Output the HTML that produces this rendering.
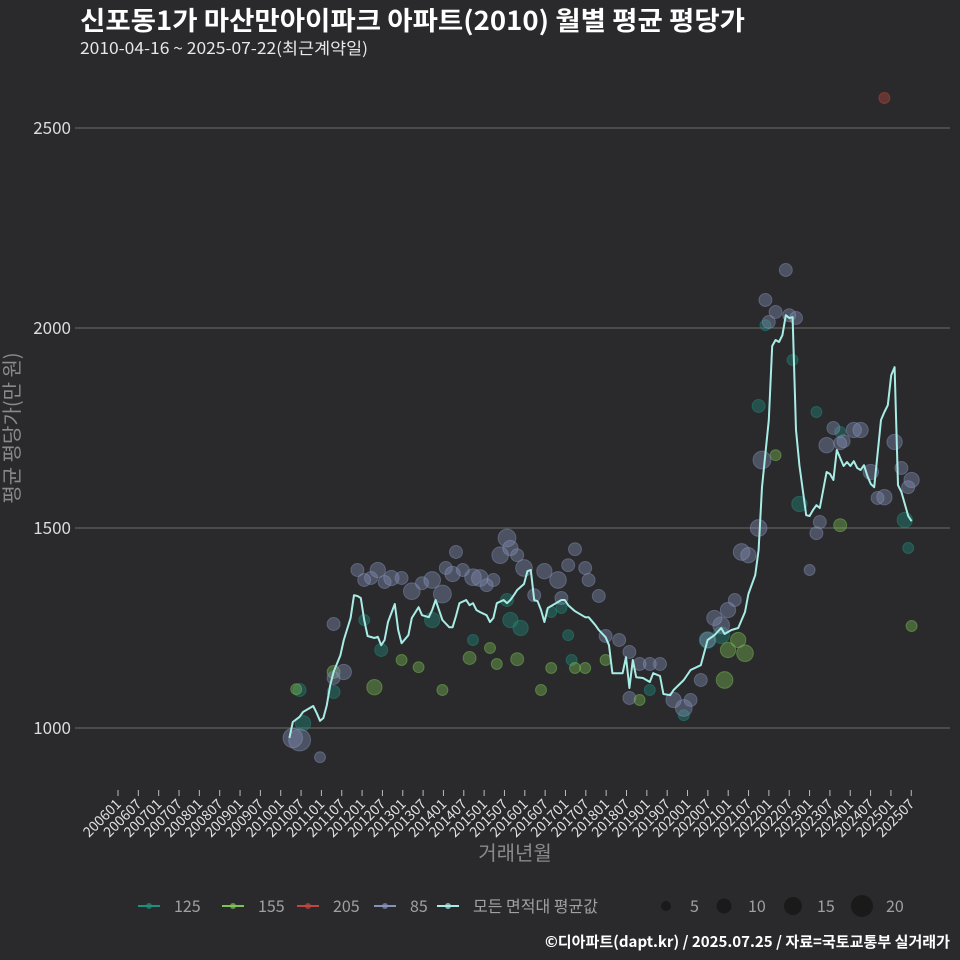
<!DOCTYPE html>
<html><head><meta charset="utf-8">
<style>
html,body{margin:0;padding:0;background:#2a2a2c;}
svg{display:block;font-family:"Noto Sans CJK KR","Liberation Sans",sans-serif;}
</style></head>
<body>
<svg id="chart" width="960" height="960" viewBox="0 0 960 960">
<rect x="0" y="0" width="960" height="960" fill="#2a2a2c"/>
<text x="80" y="30" fill="#ffffff" font-size="26" font-weight="bold" textLength="665" lengthAdjust="spacingAndGlyphs">신포동1가 마산만아이파크 아파트(2010) 월별 평균 평당가</text>
<text x="80" y="54" fill="#e8e8e8" font-size="16" textLength="288" lengthAdjust="spacingAndGlyphs">2010-04-16 ~ 2025-07-22(최근계약일)</text>
<g id="grid"></g>
<g id="yticks"></g>
<g id="xticks"></g>
<g id="bubbles"></g>
<g id="line"></g>
<text transform="translate(19,428) rotate(-90)" text-anchor="middle" fill="#8a8a8a" font-size="20">평균 평당가(만 원)</text>
<text x="515" y="860" text-anchor="middle" fill="#8a8a8a" font-size="20">거래년월</text>
<g id="legend"></g>
<text x="950" y="947" text-anchor="end" fill="#ffffff" font-size="15" font-weight="bold" textLength="405" lengthAdjust="spacingAndGlyphs">©디아파트(dapt.kr) / 2025.07.25 / 자료=국토교통부 실거래가</text>
</svg>
<script>
// ---- data ----
const yTicks = [1000, 1500, 2000, 2500];
const xTickLabels = ["200601","200607","200701","200707","200801","200807","200901","200907","201001","201007","201101","201107","201201","201207","201301","201307","201401","201407","201501","201507","201601","201607","201701","201707","201801","201807","201901","201907","202001","202007","202101","202107","202201","202207","202301","202307","202401","202407","202501","202507"];
// average line: months since 2010-04, value
const avgMonths = [0,1,3,4,6,7,8,9,10,11,12,13,15,16,18,19,20,21,22,23,25,26,27,28,29,31,32,33,35,36,38,39,41,42,43,44,45,47,48,49,50,52,53,54,55,56,58,59,60,61,63,64,65,66,67,69,70,71,72,73,74,75,76,78,80,81,82,84,85,87,88,90,91,93,94,95,96,98,99,100,101,102,104,106,107,109,110,112,113,116,118,121,123,125,127,128,130,132,134,135,137,138,139,141,142,143,144,145,146,147,148,149,150,152,153,154,155,156,157,158,159,160,161,162,163,164,165,166,167,168,169,170,171,172,174,175,176,177,178,179,180,181,182,183];
const avgValues = [975,1015,1028,1040,1050,1055,1038,1018,1025,1057,1107,1140,1182,1220,1275,1332,1330,1325,1270,1230,1225,1228,1207,1220,1265,1310,1245,1212,1232,1275,1302,1282,1277,1295,1320,1295,1270,1252,1252,1280,1312,1320,1307,1312,1295,1290,1282,1265,1275,1312,1320,1312,1320,1332,1345,1360,1392,1395,1320,1317,1295,1265,1300,1310,1320,1320,1307,1292,1287,1277,1277,1257,1245,1227,1207,1137,1137,1137,1177,1100,1170,1127,1125,1115,1137,1130,1085,1082,1095,1120,1145,1157,1220,1232,1250,1235,1245,1250,1290,1335,1382,1445,1602,1770,1955,1970,1965,1982,2032,2025,2027,1745,1657,1532,1530,1545,1557,1550,1595,1640,1635,1620,1695,1675,1655,1665,1655,1667,1650,1645,1657,1630,1610,1602,1770,1790,1807,1882,1902,1607,1590,1560,1530,1517];
// transactions by area
const s85Months = [1,3,9,13,13,16,20,22,24,26,28,30,33,36,39,42,45,46,48,49,51,54,56,58,60,62,64,65,67,69,72,75,79,80,82,84,87,88,91,93,97,100,100,103,106,109,113,116,118,121,123,125,127,129,131,133,135,138,139,140,141,143,146,147,149,153,155,156,158,160,162,163,166,168,171,173,175,178,180,182,183];
const s85Values = [975,970,927,1260,1125,1140,1395,1370,1375,1395,1365,1375,1375,1342,1362,1370,1335,1400,1385,1440,1395,1377,1375,1357,1370,1432,1475,1450,1432,1400,1332,1392,1370,1325,1407,1447,1400,1370,1330,1230,1220,1190,1075,1160,1160,1160,1070,1050,1070,1120,1220,1275,1257,1295,1320,1440,1432,1500,1670,2070,2015,2040,2145,2032,2025,1395,1487,1515,1707,1750,1712,1717,1745,1745,1640,1575,1577,1715,1650,1602,1620];
const s85Sizes = [15,20,3,5,5,8,5,5,5,8,5,8,5,10,5,10,12,5,8,5,5,10,10,5,5,10,12,8,5,10,5,8,10,5,5,5,5,5,5,5,5,5,5,5,5,5,8,10,5,5,8,8,10,8,5,10,8,10,12,5,5,5,5,5,5,3,5,5,8,5,5,5,8,8,8,5,8,8,5,5,8];
const s125Months = [3,4,13,22,27,42,54,64,65,68,77,80,82,83,106,116,123,127,138,140,148,150,155,162,181,182];
const s125Values = [1095,1012,1090,1270,1195,1270,1220,1320,1270,1250,1290,1300,1232,1170,1095,1032,1220,1232,1805,2007,1920,1560,1790,1740,1520,1450];
const s125Sizes = [5,8,5,3,5,8,3,5,8,8,3,3,3,3,3,3,10,10,5,3,3,8,3,3,8,3];
const s155Months = [2,13,25,33,38,45,53,59,61,67,74,77,84,87,93,103,128,129,132,134,143,162,183];
const s155Values = [1097,1140,1102,1170,1152,1095,1175,1200,1160,1172,1095,1150,1150,1150,1170,1070,1120,1195,1220,1187,1682,1507,1255];
const s155Sizes = [3,5,8,3,3,3,5,3,3,5,3,3,3,3,3,3,10,8,8,10,3,5,3];
const s205Months = [175];
const s205Values = [2575];
const s205Sizes = [3];

// ---- scales ----
const NS = "http://www.w3.org/2000/svg";
function yScale(v){ return 728 - (v - 1000) * 0.4; }
function xMonth(m){ return 116 + (m + 51) * 3.4; } // m = months since 2010-04
function xTick(i){ return 118 + i * 6 * 3.39; }
function rScale(s){ return 2 + Math.sqrt(s) * 2.0; }
function mk(tag, attrs, parent){ const e = document.createElementNS(NS, tag); for (const k in attrs) e.setAttribute(k, attrs[k]); parent.appendChild(e); return e; }

const grid = document.getElementById('grid');
const yg = document.getElementById('yticks');
yTicks.forEach(function(t){
  const gl = mk('line', {x1:75, x2:950, y1:yScale(t), y2:yScale(t), stroke:'#6c6c6c', 'stroke-width':1}, grid);
  
  
  const tx = mk('text', {x:71, y:yScale(t)+6, 'text-anchor':'end', fill:'#dcdcdc', 'font-size':17}, yg);
  tx.textContent = t;
  
  
});
const xg = document.getElementById('xticks');
xTickLabels.forEach(function(lab, i){
  const x = xTick(i);
  const tk = mk('line', {x1:x, x2:x, y1:790, y2:796, stroke:'#bbbbbb', 'stroke-width':1}, xg);
  
  
  const tx = mk('text', {x:x+4, y:805, 'text-anchor':'end', fill:'#e0e0e0', 'font-size':14, transform:'rotate(-45 '+(x+4)+' 805)'}, xg);
  tx.textContent = lab;
  
  
});

const bg = document.getElementById('bubbles');
function drawSeries(months, values, sizes, color, name){
  months.forEach(function(m, i){
    const c = mk('circle', {cx:xMonth(m), cy:yScale(values[i]), r:rScale(sizes[i]), fill:color, 'fill-opacity':0.38, stroke:color, 'stroke-opacity':0.45, 'stroke-width':1}, bg);
    
    
  });
}
drawSeries(s125Months, s125Values, s125Sizes, '#1f8f7e', '125');
drawSeries(s155Months, s155Values, s155Sizes, '#7cc255', '155');
drawSeries(s85Months, s85Values, s85Sizes, '#8593bb', '85');
drawSeries(s205Months, s205Values, s205Sizes, '#c0473f', '205');

const lg = document.getElementById('line');
const pts = avgMonths.map(function(m, i){ return xMonth(m).toFixed(1) + ',' + yScale(avgValues[i]).toFixed(1); }).join(' ');
const pl = mk('polyline', {points:pts, fill:'none', stroke:'#a8ece6', 'stroke-width':2, 'stroke-linejoin':'round'}, lg);



// legend
const leg = document.getElementById('legend');
const legItems = [['125','#1f8f7e',138],['155','#7cc255',222],['205','#c0473f',297],['85','#8593bb',374],['모든 면적대 평균값','#a8ece6',437]];
legItems.forEach(function(it){
  const g = mk('g', {}, leg);
  
  
  mk('line', {x1:it[2], x2:it[2]+22, y1:906, y2:906, stroke:it[1], 'stroke-width':2}, g);
  mk('circle', {cx:it[2]+11, cy:906, r:3, fill:it[1], 'fill-opacity':0.7}, g);
  const t = mk('text', {x:it[2]+36, y:912, fill:'#a0a0a0', 'font-size':16}, g);
  t.textContent = it[0];
});
const sizeItems = [[5,666,5],[10,724,7.5],[15,793,9],[20,862,11]];
sizeItems.forEach(function(it){
  const g = mk('g', {}, leg);
  
  
  mk('circle', {cx:it[1], cy:906, r:it[2], fill:'#1a1a1a'}, g);
  const t = mk('text', {x:it[1]+24, y:912, fill:'#a0a0a0', 'font-size':16}, g);
  t.textContent = it[0];
});
</script>
</body></html>
